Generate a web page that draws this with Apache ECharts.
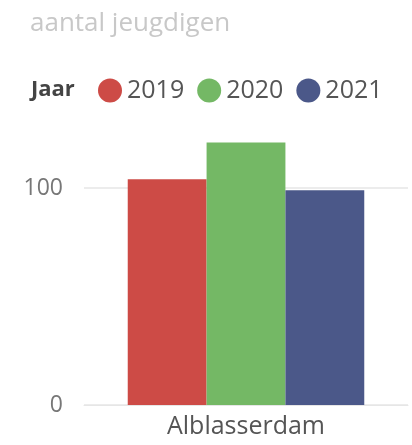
<!DOCTYPE html>
<html><head><meta charset="utf-8">
<script src="https://cdn.jsdelivr.net/npm/echarts@6/dist/echarts.min.js"></script>
<style>html,body{margin:0;padding:0;background:#fff}#c{width:412px;height:445px}</style>
</head><body><div id="c"></div>
<script>
const categories = ['Alblasserdam'];
const years = ['2019', '2020', '2021'];
const values2019 = [104];
const values2020 = [121];
const values2021 = [99];
const yTicks = [0, 100];
const colors = ['#CD4B46', '#74B865', '#4B5889'];
const FONT = 'Open Sans';
const seriesData = [values2019, values2020, values2021];
const chart = echarts.init(document.getElementById('c'));
chart.setOption({
  animation: false,
  textStyle: { fontFamily: FONT },
  title: [
    { text: 'aantal jeugdigen', left: 25, top: 6, textStyle: { fontFamily: FONT, fontSize: 26, fontWeight: 'normal', color: '#c8c8c8' } },
    { text: 'Jaar', left: 26, top: 74, textStyle: { fontFamily: FONT, fontSize: 22, fontWeight: 'bold', color: '#444' } }
  ],
  legend: {
    left: 98, top: 78, padding: 0, icon: 'circle', itemWidth: 24, itemHeight: 24, itemGap: 13,
    textStyle: { fontFamily: FONT, fontSize: 25, color: '#555' },
    data: years
  },
  grid: { left: 84, right: 4, top: 133.75, bottom: 40 },
  xAxis: {
    type: 'category', data: categories,
    axisLine: { show: true, lineStyle: { color: '#e6e6e6', width: 1 } },
    axisTick: { show: false },
    axisLabel: { fontFamily: FONT, fontSize: 25, color: '#555', margin: 9 }
  },
  yAxis: {
    type: 'value', min: yTicks[0], max: 125, interval: yTicks[1] - yTicks[0],
    axisLine: { show: false }, axisTick: { show: false },
    axisLabel: { fontFamily: FONT, fontSize: 23, color: '#777', margin: 21, showMaxLabel: false },
    splitLine: { show: true, showMaxLine: false, lineStyle: { color: '#e6e6e6', width: 1.5 } }
  },
  series: years.map((y, i) => ({
    name: y, type: 'bar', data: seriesData[i], barGap: 0, barCategoryGap: '27%',
    itemStyle: { color: colors[i] }
  }))
});
</script></body></html>
